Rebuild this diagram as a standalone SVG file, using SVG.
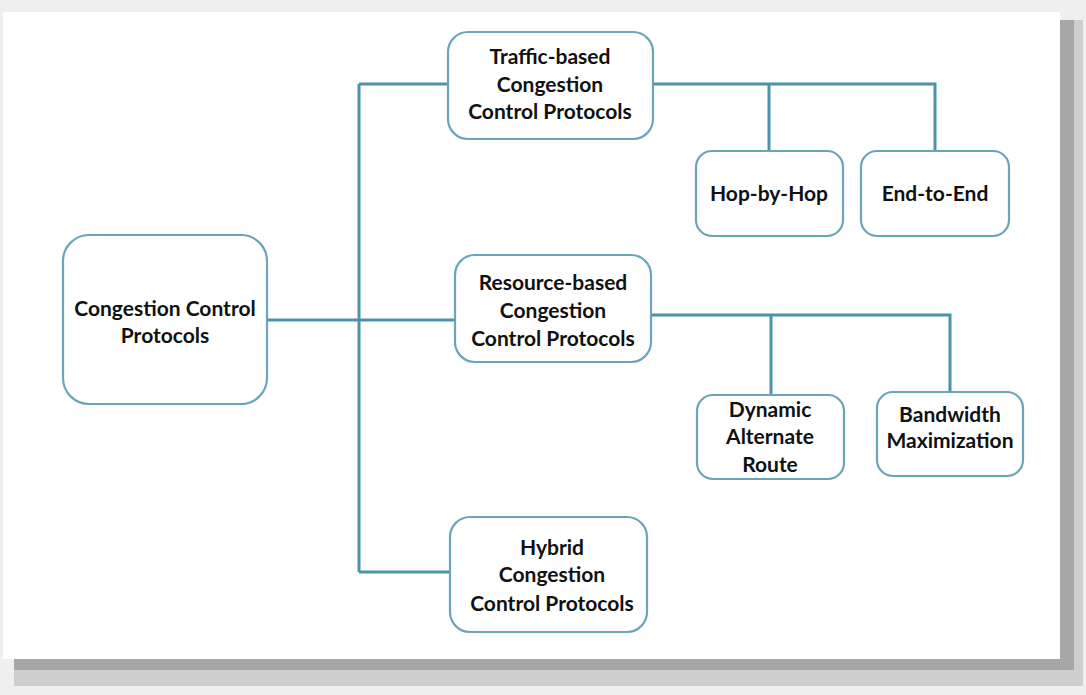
<svg xmlns="http://www.w3.org/2000/svg" width="1086" height="695" viewBox="0 0 1086 695">
<style>
.box{fill:#fff;stroke:#6aa6b8;stroke-width:2.2}
.lbl{font-family:Lato,"Open Sans","Liberation Sans",sans-serif;font-weight:bold;font-size:21px;fill:#111;text-anchor:middle}
.con{fill:none;stroke:#4b93a8;stroke-width:3}
</style>
<rect x="0" y="0" width="1086" height="695" fill="#efefef"/>
<rect x="14" y="20" width="1069" height="666" fill="#cecece"/>
<rect x="14" y="20" width="1060" height="650" fill="#a7a7a7"/>
<rect x="3" y="12" width="1057" height="647" fill="#ffffff"/>
<g id="connectors">
<path class="con" d="M267 320 H455"/>
<path class="con" d="M359 84 V572"/>
<path class="con" d="M359 84 H448"/>
<path class="con" d="M359 572 H450"/>
<path class="con" d="M653 84 H935 V151"/>
<path class="con" d="M769 84 V151"/>
<path class="con" d="M651 315 H950 V392"/>
<path class="con" d="M771 315 V395"/>
</g>
<g id="root">
<rect class="box" x="63" y="235" width="204" height="169" rx="26"/>
<text class="lbl" x="165" y="316">Congestion Control</text>
<text class="lbl" x="165" y="343">Protocols</text>
</g>
<g id="traffic">
<rect class="box" x="448" y="32" width="205" height="107" rx="20"/>
<text class="lbl" x="550" y="64">Traffic-based</text>
<text class="lbl" x="550" y="92">Congestion</text>
<text class="lbl" x="550" y="119">Control Protocols</text>
</g>
<g id="hop">
<rect class="box" x="696" y="151" width="147" height="85" rx="16"/>
<text class="lbl" x="769" y="201">Hop-by-Hop</text>
</g>
<g id="e2e">
<rect class="box" x="861" y="151" width="148" height="85" rx="16"/>
<text class="lbl" x="935" y="201">End-to-End</text>
</g>
<g id="resource">
<rect class="box" x="455" y="255" width="196" height="107" rx="20"/>
<text class="lbl" x="553" y="290">Resource-based</text>
<text class="lbl" x="553" y="318">Congestion</text>
<text class="lbl" x="553" y="346">Control Protocols</text>
</g>
<g id="dar">
<rect class="box" x="697" y="395" width="147" height="84" rx="16"/>
<text class="lbl" x="770" y="417">Dynamic</text>
<text class="lbl" x="770" y="444">Alternate</text>
<text class="lbl" x="770" y="472">Route</text>
</g>
<g id="bw">
<rect class="box" x="877" y="392" width="146" height="84" rx="16"/>
<text class="lbl" x="950" y="422">Bandwidth</text>
<text class="lbl" x="950" y="448">Maximization</text>
</g>
<g id="hybrid">
<rect class="box" x="450" y="517" width="197" height="115" rx="20"/>
<text class="lbl" x="552" y="555">Hybrid</text>
<text class="lbl" x="552" y="582">Congestion</text>
<text class="lbl" x="552" y="611">Control Protocols</text>
</g>
</svg>
